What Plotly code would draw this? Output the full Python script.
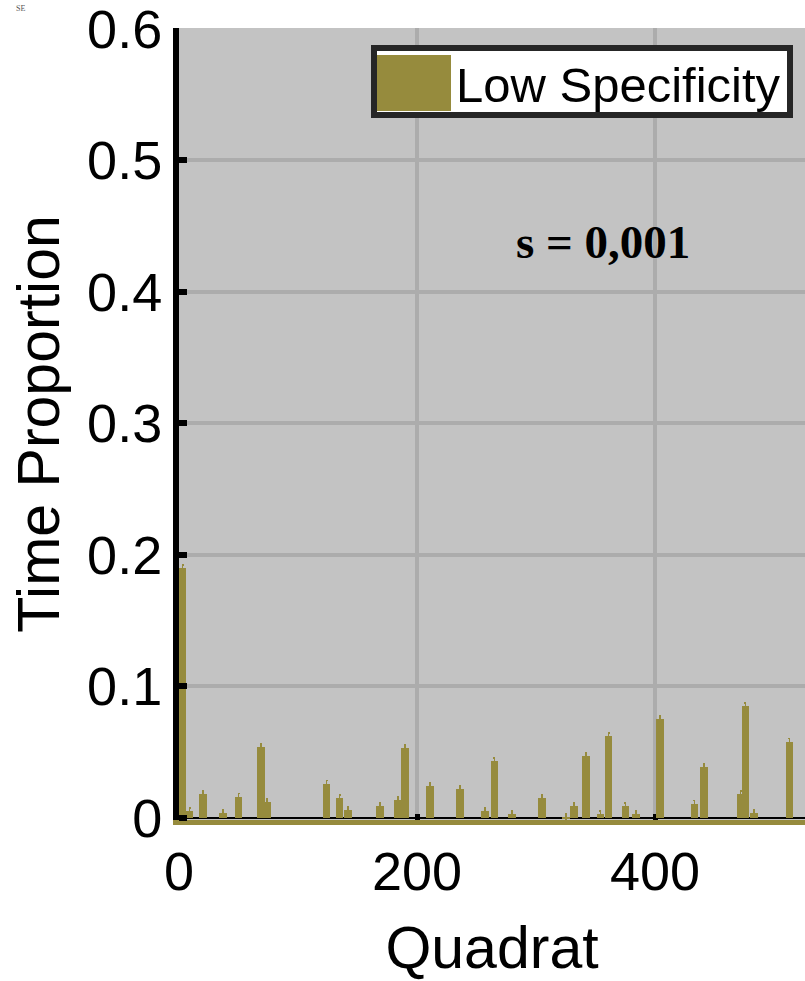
import plotly.graph_objects as go

# Quadrat index and the proportion of time spent there (low specificity, s = 0,001)
quadrat = [3, 9, 20, 37, 50, 69, 74, 124, 135, 142, 169, 184, 190, 211, 236, 257,
           265, 280, 305, 325, 332, 342, 354, 361, 375, 384, 404, 433, 441, 472,
           476, 483, 513]
proportion = [0.190, 0.005, 0.018, 0.004, 0.016, 0.054, 0.012, 0.026, 0.015, 0.006,
              0.009, 0.014, 0.053, 0.024, 0.022, 0.005, 0.043, 0.003, 0.015, 0.001,
              0.009, 0.047, 0.003, 0.062, 0.009, 0.003, 0.075, 0.011, 0.039, 0.018,
              0.085, 0.004, 0.058]
# standard error of each proportion
se = [0.0025] * len(quadrat)

y_ticks = [0, 0.1, 0.2, 0.3, 0.4, 0.5, 0.6]
y_ticklabels = ["0", "0.1", "0.2", "0.3", "0.4", "0.5", "0.6"]
x_ticks = [0, 200, 400]
x_ticklabels = ["0", "200", "400"]

OLIVE = "#968b3d"
BG = "#c3c3c3"
GRID = "#acacac"
SANS = "Arial, Liberation Sans, sans-serif"
SERIF = "Times New Roman, Liberation Serif, serif"

W, H = 805, 981
L, R, T, B = 179, 0, 28, 161
PW, PH = W - L - R, H - T - B


def px(x):
    return (x - L) / PW


def py(y):
    return (H - B - y) / PH


fig = go.Figure()
fig.add_trace(go.Bar(
    x=quadrat, y=proportion, width=6.3,
    marker=dict(color=OLIVE, line=dict(width=0)),
    error_y=dict(type="data", array=se, color=OLIVE, thickness=1.5, width=1),
    name="Low Specificity", showlegend=False,
))

shapes = [
    # legend box
    dict(type="rect", xref="paper", yref="paper",
         x0=px(374), x1=px(790), y0=py(115), y1=py(48),
         fillcolor="white", line=dict(color="#262626", width=6), layer="above"),
    dict(type="rect", xref="paper", yref="paper",
         x0=px(377), x1=px(451), y0=py(111), y1=py(55),
         fillcolor=OLIVE, line=dict(width=0), layer="above"),
]

annotations = [
    dict(text="Low Specificity", xref="paper", yref="paper", x=px(454), y=py(85),
         xanchor="left", yanchor="middle", showarrow=False,
         font=dict(family=SANS, size=49, color="black")),
    dict(text="<b>s = 0,001</b>", xref="paper", yref="paper", x=px(603), y=py(242),
         xanchor="center", yanchor="middle", showarrow=False,
         font=dict(family=SERIF, size=47, color="black")),
    dict(text="SE", xref="paper", yref="paper", x=px(14), y=py(2),
         xanchor="left", yanchor="top", showarrow=False,
         font=dict(family=SERIF, size=8, color="#555555")),
]

fig.update_layout(
    width=W, height=H,
    margin=dict(l=L, r=R, t=T, b=B, autoexpand=False),
    paper_bgcolor="white", plot_bgcolor=BG,
    shapes=shapes, annotations=annotations,
    bargap=0, showlegend=False,
)

fig.update_xaxes(
    range=[0, PW / 1.19], tickvals=x_ticks, ticktext=x_ticklabels,
    ticks="inside", ticklen=6, tickwidth=5, tickcolor="black",
    showline=True, linecolor=OLIVE, linewidth=5,
    showgrid=True, gridcolor=GRID, gridwidth=4,
    zeroline=False, layer="below traces",
    tickfont=dict(family=SANS, size=54, color="black"),
    title=dict(text="Quadrat", font=dict(family=SANS, size=59, color="black"), standoff=30),
)
fig.update_yaxes(
    range=[-0.0015, 0.6005], tickvals=y_ticks, ticktext=y_ticklabels,
    ticks="inside", ticklen=8, tickwidth=6, tickcolor="black",
    ticklabeloverflow="allow",
    showline=True, linecolor="black", linewidth=6,
    showgrid=True, gridcolor=GRID, gridwidth=4,
    zeroline=True, zerolinecolor="black", zerolinewidth=1.5,
    tickfont=dict(family=SANS, size=54, color="black"),
    title=dict(text="Time Proportion", font=dict(family=SANS, size=59, color="black"), standoff=10),
)

fig.write_html("out.html")
